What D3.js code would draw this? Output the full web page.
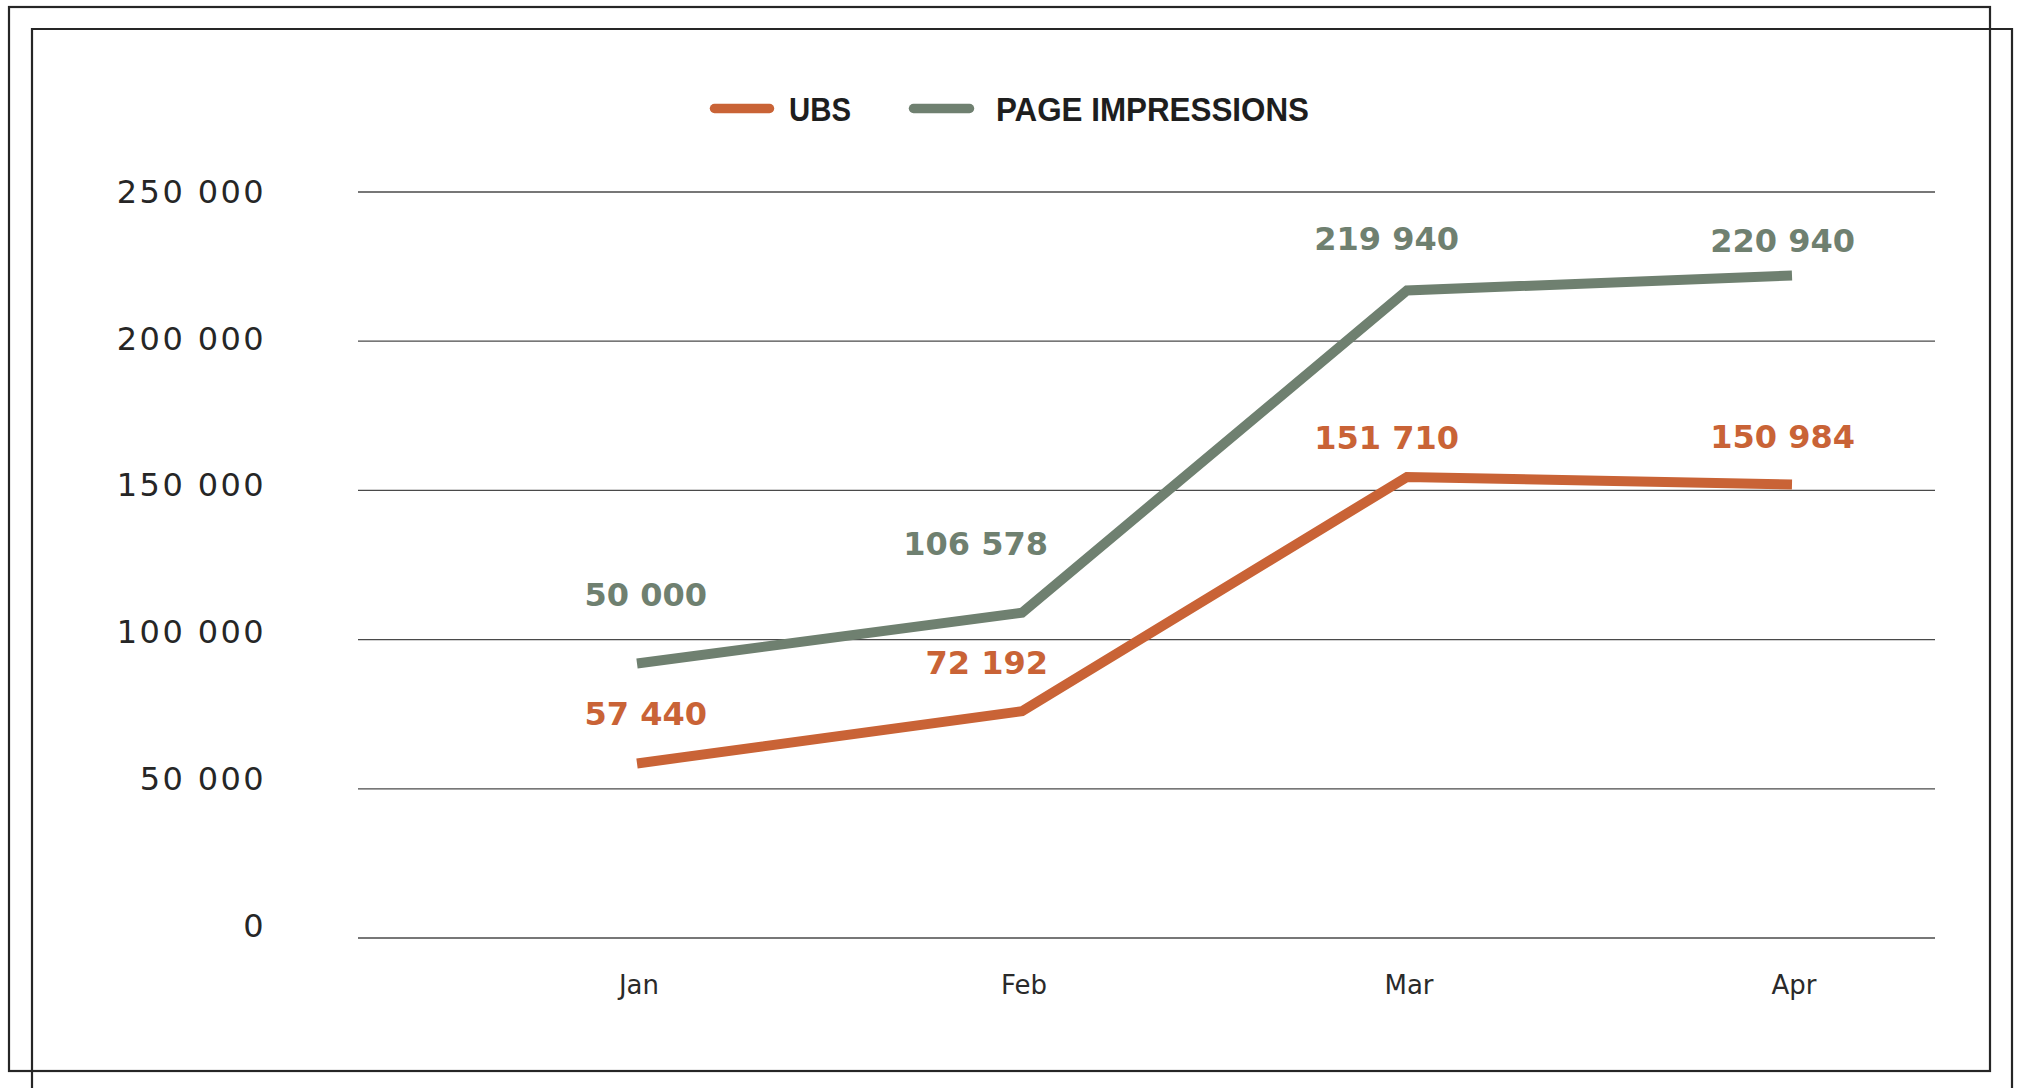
<!DOCTYPE html>
<html>
<head>
<meta charset="utf-8">
<script src="https://cdn.jsdelivr.net/npm/d3@7"></script>
<style>
  html, body { margin: 0; padding: 0; background: #fff; }
  svg { display: block; }
</style>
</head>
<body>
<svg id="chart" width="2022" height="1088"></svg>
<script>
// ---- data ----
const months = ["Jan", "Feb", "Mar", "Apr"];
const ubsValues = [58500, 76000, 154500, 152000];
const pageValues = [92000, 109000, 217000, 222000];
const ubsLabels = ["57 440", "72 192", "151 710", "150 984"];
const pageLabels = ["50 000", "106 578", "219 940", "220 940"];
const yTicks = [0, 50000, 100000, 150000, 200000, 250000];
const yTickLabels = ["0", "50 000", "100 000", "150 000", "200 000", "250 000"];
const seriesNames = ["UBS", "PAGE IMPRESSIONS"];

// ---- layout / style ----
const W = 2022, H = 1088;
const ORANGE = "#C96336", GREEN = "#6F8070", INK = "#262626";
const gridX0 = 358, gridX1 = 1935;
const labelDx = [70, 26, 52, 63];
const ubsDy = [-38, -37, -28, -36];
const pageDy = [-57, -58, -40, -24];

const svg = d3.select("#chart");
svg.append("rect").attr("width", W).attr("height", H).attr("fill", "#fff");

// frames
svg.append("rect").attr("x", 9).attr("y", 7).attr("width", 1981).attr("height", 1064)
  .attr("fill", "none").attr("stroke", INK).attr("stroke-width", 2.2);
svg.append("path").attr("d", "M32,1090 L32,29 L2012,29 L2012,1090")
  .attr("fill", "none").attr("stroke", INK).attr("stroke-width", 2.2);

const x = d3.scalePoint().domain(months).range([637, 1792]);
const y = d3.scaleLinear().domain([0, 250000]).range([938, 192]);
const yLab = d3.scaleLinear().domain([0, 250000]).range([925, 191]);

// gridlines
svg.append("g").selectAll("line").data(yTicks).join("line")
  .attr("x1", gridX0).attr("x2", gridX1)
  .attr("y1", d => y(d)).attr("y2", d => y(d))
  .attr("stroke", "#4a4a4a").attr("stroke-width", 1.3);

// y labels
svg.append("g").selectAll("text").data(yTicks).join("text")
  .attr("x", 266).attr("y", d => yLab(d) + 11.8)
  .attr("text-anchor", "end")
  .attr("font-family", "DejaVu Sans").attr("font-size", 32)
  .attr("letter-spacing", 2.4).attr("fill", "#262626")
  .text((d, i) => yTickLabels[i]);

// x labels
svg.append("g").selectAll("text").data(months).join("text")
  .attr("x", d => x(d) + 2).attr("y", 994)
  .attr("text-anchor", "middle")
  .attr("font-family", "DejaVu Sans").attr("font-size", 26)
  .attr("fill", "#2a2a2a")
  .text(d => d);

// lines
const line = d3.line().x((d, i) => x(months[i])).y(d => y(d));
[[pageValues, GREEN], [ubsValues, ORANGE]].forEach(([vals, col]) => {
  svg.append("path").datum(vals).attr("d", line)
    .attr("fill", "none").attr("stroke", col).attr("stroke-width", 10)
    .attr("stroke-linejoin", "miter").attr("stroke-linecap", "butt");
});

// data labels
function addLabels(vals, labels, dys, col) {
  svg.append("g").selectAll("text").data(vals).join("text")
    .attr("x", (d, i) => x(months[i]) + labelDx[i])
    .attr("y", (d, i) => y(d) + dys[i])
    .attr("text-anchor", "end")
    .attr("font-family", "DejaVu Sans").attr("font-weight", "bold")
    .attr("font-size", 32).attr("fill", col)
    .text((d, i) => labels[i]);
}
addLabels(pageValues, pageLabels, pageDy, GREEN);
addLabels(ubsValues, ubsLabels, ubsDy, ORANGE);

// legend
const legend = [
  { name: seriesNames[0], col: ORANGE, sx0: 714.5, sx1: 769.5, tx: 789, tw: 62 },
  { name: seriesNames[1], col: GREEN, sx0: 913.5, sx1: 969.5, tx: 996, tw: 313 }
];
const lg = svg.append("g");
legend.forEach(l => {
  lg.append("line").attr("x1", l.sx0).attr("x2", l.sx1).attr("y1", 108.5).attr("y2", 108.5)
    .attr("stroke", l.col).attr("stroke-width", 9.5).attr("stroke-linecap", "round");
  lg.append("text").attr("x", l.tx).attr("y", 120.5)
    .attr("font-family", "Liberation Sans").attr("font-weight", "bold")
    .attr("font-size", 33).attr("fill", "#1e1e1e")
    .attr("textLength", l.tw).attr("lengthAdjust", "spacingAndGlyphs")
    .text(l.name);
});
</script>
</body>
</html>
